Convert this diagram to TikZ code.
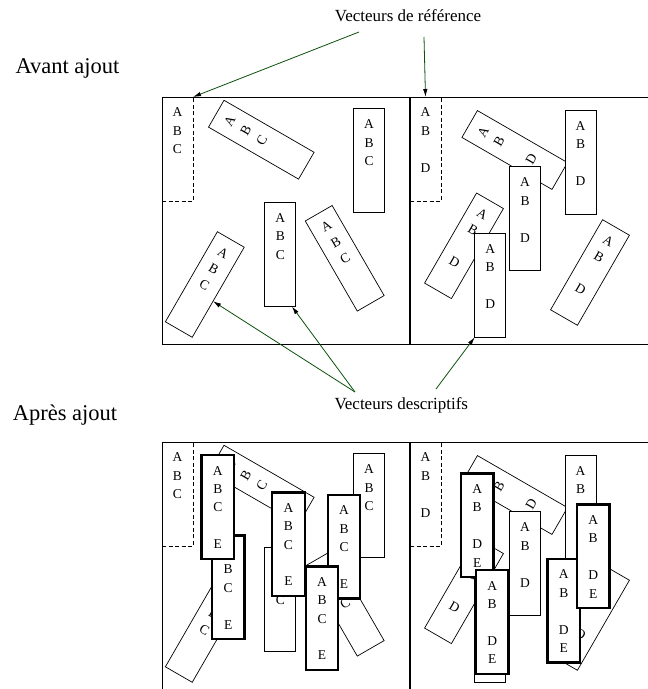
\documentclass[tikz,border=0pt]{standalone}
\usepackage{fontspec}
\setmainfont{Liberation Serif}
\usetikzlibrary{arrows.meta,calc}
\definecolor{arrowGreen}{HTML}{0B500B}
\tikzset{
  vecbox/.style={rectangle, draw=black, line width=0.7pt, fill=white, minimum width=31pt, minimum height=104pt, inner sep=0pt, outer sep=0pt},
  refbox/.style={vecbox, fill=none, dash pattern=on 4pt off 2.5pt},
  newbox/.style={vecbox, line width=2.4pt, minimum width=32.5pt, minimum height=103.5pt},
  lettre/.style={font=\fontsize{13.5}{15}\selectfont, inner sep=0pt},
  legende/.style={font=\fontsize{17}{20}\selectfont, inner sep=0pt, anchor=base},
  titre/.style={font=\fontsize{22.5}{26}\selectfont, inner sep=0pt, anchor=base},
  arrow/.style={-{Latex[length=8pt,width=4.5pt,color=black]}, draw=arrowGreen, line width=0.8pt},
  cadre/.style={draw=black, line width=0.8pt},
  separation/.style={draw=black, line width=1.4pt}
}
% one vector: box + its letters at fixed rows (1=A ... 5=E)
\newcommand{\vecteur}[5][vecbox]{%
  \node[#1, rotate=#4] (#2) at (#3) {};
  \foreach \rang/\lettre in {#5} {
    \pgfmathsetmacro{\posL}{(15.5+18.5*(\rang-1))/104}
    \node[lettre, rotate=#4] (#2\lettre) at ($(#2.north)!\posL!(#2.south)$) {\lettre};
  }
}
% the vectors present before the addition (both halves)
\newcommand{\basePanels}[1]{%
  \vecteur[refbox]{#1L1}{177.5,149}{0}{1/A,2/B,3/C}
  \vecteur{#1L2}{261.3,139.7}{60}{1/A,2/B,3/C}
  \vecteur{#1L3}{369,160.8}{0}{1/A,2/B,3/C}
  \vecteur{#1L4}{280.3,254.5}{0}{1/A,2/B,3/C}
  \vecteur{#1L5}{344.7,258.3}{30}{1/A,2/B,3/C}
  \vecteur{#1L6}{204.8,284.5}{-30}{1/A,2/B,3/C}
  \vecteur[refbox]{#1R1}{425.5,149}{0}{1/A,2/B,4/D}
  \vecteur{#1R2}{514.7,150}{60}{1/A,2/B,4/D}
  \vecteur{#1R3}{580.5,162.2}{0}{1/A,2/B,4/D}
  \vecteur{#1R4}{525,218.8}{0}{1/A,2/B,4/D}
  \vecteur{#1R5}{464,245.8}{-30}{1/A,2/B,4/D}
  \vecteur{#1R6}{490.2,285.3}{0}{1/A,2/B,4/D}
  \vecteur{#1R7}{590,272.5}{-30}{1/A,2/B,4/D}
}

\begin{document}
\begin{tikzpicture}[x=1pt,y=-1pt]
\useasboundingbox (0,0) rectangle (648,689);

% ---------------- Avant ajout ----------------
\node[titre] (avantTitre) at (67.5,73.3) {Avant ajout};
\draw[cadre] (648,97) -- (162,97) -- (162,344) -- (648,344);
\draw[separation] (410,97) -- (410,344);
\basePanels{av}

\node[legende] (refLabel) at (408,21.7) {Vecteurs de référence};
\coordinate (refStartA) at (359,32);
\coordinate (refStartB) at (424,37);
\draw[arrow] (refStartA) -- (avL1.north east);
\draw[arrow] (refStartB) -- (avR1.north);

\node[legende] (descLabel) at (401.3,409.6) {Vecteurs descriptifs};
\coordinate (descStartA) at (355,392);
\coordinate (descStartB) at (436,389);
\draw[arrow] (descStartA) -- ($(avL6.east)!0.2!(avL6.south east)$);
\draw[arrow] (descStartA) -- ($(avL4.south)!0.75!(avL4.south east)$);
\draw[arrow] (descStartB) -- (avR6.south west);

% ---------------- Apres ajout ----------------
\node[titre] (apresTitre) at (65,420) {Après ajout};
\draw[cadre] (648,442) -- (162,442) -- (162,689);
\draw[separation] (410,442) -- (410,689);
\begin{scope}[shift={(0,345)}]
  \basePanels{ap}
\end{scope}

\vecteur[newbox]{apT2}{228.2,587.3}{0}{1/A,2/B,3/C,5/E}
\vecteur[newbox]{apT1}{217.8,507}{0}{1/A,2/B,3/C,5/E}
\vecteur[newbox]{apT3}{288.5,544.2}{0}{1/A,2/B,3/C,5/E}
\vecteur[newbox]{apT4}{344,546.7}{0}{1/A,2/B,3/C,5/E}
\vecteur[newbox]{apT5}{322,618.2}{0}{1/A,2/B,3/C,5/E}

\vecteur[newbox]{apU1}{477.2,525.3}{0}{1/A,2/B,4/D,5/E}
\vecteur[newbox]{apU2}{492.2,622}{0}{1/A,2/B,4/D,5/E}
\vecteur[newbox]{apU3}{563.8,610.7}{0}{1/A,2/B,4/D,5/E}
\vecteur[newbox]{apU4}{593.2,556.3}{0}{1/A,2/B,4/D,5/E}

\end{tikzpicture}
\end{document}
